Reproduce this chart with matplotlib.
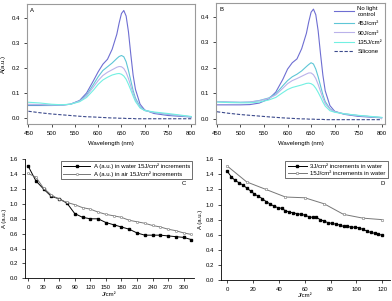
import numpy as np
import matplotlib
matplotlib.use("Agg")
from matplotlib import pyplot as plt

plt.rcParams['font.family'] = ['Liberation Sans', 'DejaVu Sans']
plt.rcParams['font.size'] = 4.3
FS = 4.3

# spectra (panels A and B)
wl = [450, 475, 500, 520, 540, 560, 575, 590, 600, 610, 620, 630, 640, 645,
      650, 655, 660, 665, 670, 675, 680, 690, 700, 720, 750, 800]

ctrl_a = [0.050, 0.050, 0.050, 0.051, 0.055, 0.070, 0.100, 0.150, 0.185, 0.215, 0.235, 0.275, 0.335, 0.380,
          0.418, 0.430, 0.408, 0.345, 0.255, 0.172, 0.115, 0.055, 0.032, 0.018, 0.010, 0.004]
j45_a = [0.052, 0.052, 0.051, 0.052, 0.055, 0.068, 0.092, 0.135, 0.165, 0.190, 0.205, 0.220, 0.238, 0.246,
         0.250, 0.245, 0.225, 0.190, 0.150, 0.110, 0.080, 0.045, 0.030, 0.022, 0.014, 0.005]
j90_a = [0.055, 0.054, 0.052, 0.052, 0.055, 0.067, 0.088, 0.125, 0.150, 0.170, 0.183, 0.193, 0.203, 0.206,
         0.205, 0.198, 0.182, 0.158, 0.128, 0.098, 0.072, 0.042, 0.030, 0.022, 0.015, 0.005]
j135_a = [0.063, 0.060, 0.055, 0.053, 0.055, 0.065, 0.082, 0.112, 0.135, 0.152, 0.163, 0.172, 0.177, 0.178,
          0.175, 0.168, 0.155, 0.135, 0.112, 0.088, 0.066, 0.040, 0.030, 0.024, 0.018, 0.006]
sil_a = [0.027, 0.021, 0.016, 0.013, 0.010, 0.007, 0.005, 0.004, 0.003, 0.002, 0.001, 0.000, 0.000, -0.001,
         -0.001, -0.001, -0.002, -0.002, -0.002, -0.002, -0.003, -0.003, -0.003, -0.003, -0.003, -0.003]

ctrl_b = [0.055, 0.055, 0.055, 0.056, 0.062, 0.078, 0.105, 0.155, 0.195, 0.220, 0.235, 0.275, 0.335, 0.380,
          0.418, 0.430, 0.408, 0.345, 0.255, 0.172, 0.110, 0.052, 0.030, 0.018, 0.010, 0.004]
j45_b = [0.068, 0.066, 0.065, 0.066, 0.072, 0.082, 0.098, 0.130, 0.150, 0.165, 0.175, 0.188, 0.205, 0.213,
         0.220, 0.215, 0.195, 0.165, 0.130, 0.095, 0.068, 0.040, 0.028, 0.020, 0.013, 0.005]
j90_b = [0.068, 0.066, 0.065, 0.066, 0.071, 0.080, 0.094, 0.120, 0.138, 0.150, 0.158, 0.167, 0.176, 0.180,
         0.180, 0.173, 0.158, 0.135, 0.108, 0.082, 0.060, 0.038, 0.028, 0.020, 0.013, 0.005]
j135_b = [0.066, 0.064, 0.063, 0.063, 0.066, 0.074, 0.084, 0.103, 0.115, 0.123, 0.128, 0.133, 0.139, 0.140,
          0.138, 0.132, 0.120, 0.104, 0.086, 0.066, 0.050, 0.032, 0.026, 0.020, 0.014, 0.006]
sil_b = [0.028, 0.022, 0.017, 0.014, 0.011, 0.008, 0.006, 0.004, 0.003, 0.002, 0.001, 0.000, 0.000, -0.001,
         -0.001, -0.001, -0.002, -0.002, -0.002, -0.002, -0.003, -0.003, -0.003, -0.003, -0.003, -0.003]

spec_labels = ["No light\ncontrol", "45J/cm²", "90J/cm²", "135J/cm²", "Silicone"]
spec_colors = ["#6e6ed2", "#5ec6d6", "#bab2ea", "#72f0e2", "#3c4a8c"]

# panel C
dose_c = [0, 15, 30, 45, 60, 75, 90, 105, 120, 135, 150, 165, 180, 195, 210, 225, 240, 255, 270, 285, 300, 315]
water_c = [1.51, 1.31, 1.20, 1.10, 1.07, 1.01, 0.87, 0.82, 0.80, 0.80, 0.75, 0.72, 0.69, 0.66,
           0.61, 0.58, 0.58, 0.58, 0.57, 0.56, 0.55, 0.52]
air_c = [1.41, 1.36, 1.21, 1.12, 1.06, 1.02, 0.99, 0.95, 0.93, 0.89, 0.86, 0.84, 0.82, 0.78,
         0.76, 0.74, 0.71, 0.69, 0.66, 0.64, 0.61, 0.59]

# panel D
dose_d3 = list(range(0, 121, 3))
water_d3 = [1.44, 1.37, 1.32, 1.29, 1.26, 1.22, 1.18, 1.14, 1.11, 1.08, 1.04, 1.01, 0.98, 0.96,
            0.95, 0.92, 0.90, 0.89, 0.88, 0.87, 0.86, 0.84, 0.83, 0.83, 0.80, 0.78, 0.76, 0.75,
            0.74, 0.73, 0.71, 0.71, 0.70, 0.70, 0.69, 0.67, 0.65, 0.63, 0.62, 0.61, 0.59]
dose_d15 = [0, 15, 30, 45, 60, 75, 90, 105, 120]
water_d15 = [1.51, 1.30, 1.20, 1.10, 1.09, 1.01, 0.87, 0.82, 0.80]

W, H = 392, 301
fig = plt.figure(figsize=(W / 100, H / 100), dpi=100)

def box(l, t, r, b):
    return [l / W, 1 - b / H, (r - l) / W, (b - t) / H]

def spectrum_axes(ax, curves, xlim, ylim):
    for y, c, lab in zip(curves, spec_colors, spec_labels):
        ls = (0, (3, 1.5)) if lab == "Silicone" else "-"
        ax.plot(wl, y, color=c, lw=0.8, ls=ls, label=lab)
    ax.set_xlim(*xlim)
    ax.set_ylim(*ylim)
    ax.set_xticks(range(450, 801, 50))
    ax.set_yticks([0.0, 0.1, 0.2, 0.3, 0.4])
    ax.set_yticklabels(["0.0", "0.1", "0.2", "0.3", "0.4"])
    for s in ax.spines.values():
        s.set_color("#9a9a9a")
        s.set_linewidth(0.8)
    ax.tick_params(direction="out", length=2, width=0.5, pad=3, labelsize=FS,
                   top=False, right=False)
    ax.set_xlabel("Wavelength (nm)", fontsize=FS, labelpad=4)

axA = fig.add_axes(box(27, 4, 195, 124))
spectrum_axes(axA, [ctrl_a, j45_a, j90_a, j135_a, sil_a], (447, 808), (-0.024, 0.456))
axA.set_ylabel("A(a.u.)", fontsize=FS, labelpad=4)
axA.text(0.02, 0.97, "A", transform=axA.transAxes, fontsize=FS, va="top", ha="left")

axB = fig.add_axes(box(216, 3, 385, 124))
spectrum_axes(axB, [ctrl_b, j45_b, j90_b, j135_b, sil_b], (448, 807), (-0.02, 0.454))
axB.text(0.02, 0.97, "B", transform=axB.transAxes, fontsize=FS, va="top", ha="left")
axB.legend(loc="upper right", frameon=False, fontsize=FS, handlelength=3.4,
           handletextpad=0.6, labelspacing=0.7, borderaxespad=0.1)

def dose_axes(ax, xlim, xticks):
    ax.set_xlim(*xlim)
    ax.set_ylim(0, 1.6)
    ax.set_xticks(xticks)
    ax.set_yticks(np.arange(0, 1.61, 0.2))
    ax.set_yticklabels(["%.1f" % v for v in np.arange(0, 1.61, 0.2)])
    ax.spines["top"].set_visible(False)
    ax.spines["right"].set_visible(False)
    for s in ("left", "bottom"):
        ax.spines[s].set_linewidth(0.6)
    ax.tick_params(direction="out", length=2, width=0.5, pad=3, labelsize=FS)
    ax.set_xlabel("J/cm²", fontsize=FS, labelpad=1)
    ax.set_ylabel("A (a.u.)", fontsize=FS, labelpad=2)

axC = fig.add_axes(box(25, 159.3, 194, 278.3))
axC.plot(dose_c, water_c, color="black", lw=0.7, marker="s", ms=1.8,
         label="A (a.u.) in water 15J/cm² increments")
axC.plot(dose_c, air_c, color="#777777", lw=0.7, marker="o", ms=1.6, mfc="white", mew=0.4,
         label="A (a.u.) in air 15J/cm² increments")
dose_axes(axC, (-6, 320), range(0, 301, 30))
axC.text(0.95, 0.8, "C", transform=axC.transAxes, fontsize=FS, ha="right", va="center")
legC = axC.legend(loc="upper right", fontsize=FS, fancybox=False, edgecolor="black",
                  handlelength=4.5, handletextpad=0.6, labelspacing=0.3, borderpad=0.4,
                  borderaxespad=0.3)
legC.get_frame().set_linewidth(0.5)

axD = fig.add_axes(box(221, 159.3, 390, 280))
axD.plot(dose_d3, water_d3, color="black", lw=0.7, marker="s", ms=1.5,
         label="3J/cm² increments in water")
axD.plot(dose_d15, water_d15, color="#777777", lw=0.7, marker="o", ms=1.8, mfc="white", mew=0.4,
         label="15J/cm² increments in water")
dose_axes(axD, (-4.9, 126), range(0, 121, 20))
axD.text(0.97, 0.8, "D", transform=axD.transAxes, fontsize=FS, ha="right", va="center")
legD = axD.legend(loc="upper right", fontsize=FS, fancybox=False, edgecolor="black",
                  handlelength=3.2, handletextpad=0.6, labelspacing=0.3, borderpad=0.4,
                  borderaxespad=0.3)
legD.get_frame().set_linewidth(0.5)

fig.savefig("out.png", dpi=100)
